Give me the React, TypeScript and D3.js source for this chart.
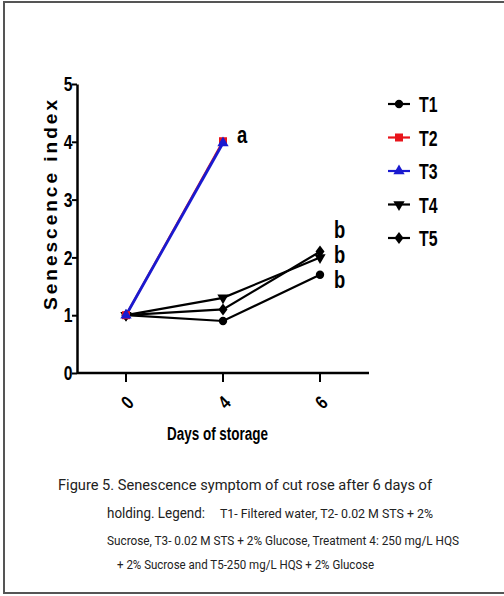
import React, { useEffect, useRef } from "react";
import * as d3 from "d3";

// dias de almacenamiento (categorias del eje x)
const days = ["0", "4", "6"];
const yTicks = [0, 1, 2, 3, 4, 5];

// indice de senescencia por tratamiento
const t1 = [1.0, 0.9, 1.7];
const t2 = [1.0, 4.01];
const t3 = [1.0, 3.98];
const t4 = [1.0, 1.3, 2.0];
const t5 = [1.0, 1.1, 2.1];

const seriesNames = ["T1", "T2", "T3", "T4", "T5"];
const seriesValues = [t1, t2, t3, t4, t5];
const seriesColors = ["#000000", "#e8141b", "#1a1ad0", "#000000", "#000000"];
const seriesSymbols = ["circle", "square", "triangle", "down", "diamond"];

// letras de significancia
const sigLetters = [
  { label: "a", day: "4", value: 4.1 },
  { label: "b", day: "6", value: 2.45 },
  { label: "b", day: "6", value: 2.02 },
  { label: "b", day: "6", value: 1.6 },
];

const captionLines = [
  "Figure 5. Senescence symptom of cut rose after 6 days of",
  "holding. Legend:",
  "T1- Filtered water,  T2- 0.02 M STS + 2%",
  "Sucrose, T3- 0.02 M STS + 2% Glucose, Treatment 4: 250 mg/L HQS",
  "+ 2% Sucrose and T5-250 mg/L HQS + 2% Glucose",
];

const W = 504;
const H = 596;
const narrow = "'Liberation Sans Narrow', 'Liberation Sans', 'DejaVu Sans', sans-serif";

const symbolPath = (kind: string) => {
  if (kind === "circle") return d3.symbol(d3.symbolCircle, 55)();
  if (kind === "square") return d3.symbol(d3.symbolSquare, 64)();
  if (kind === "triangle") return d3.symbol(d3.symbolTriangle, 55)();
  if (kind === "down") return d3.symbol(d3.symbolTriangle, 55)();
  return "M0,-6L4.5,0L0,6L-4.5,0Z";
};

// texto condensado en negrita
const boldText = (sel: any) =>
  sel
    .attr("font-family", narrow)
    .attr("font-weight", "bold")
    .style("font-stretch", "condensed")
    .attr("fill", "#000");

const App = () => {
  const ref = useRef<SVGGElement>(null);

  const drawChart = () => {
    const g = d3.select(ref.current);
    g.selectAll("*").remove();

    const x = d3.scalePoint<string>().domain(days).range([126, 320]);
    const y = d3.scaleLinear().domain([0, 5]).range([373, 84]);
    const x0 = 77;
    const xEnd = 369;

    // eje y
    const yAxis = g
      .append("g")
      .attr("transform", `translate(${x0},0)`)
      .call(d3.axisLeft(y).tickValues(yTicks).tickSize(5).tickSizeOuter(0).tickFormat(d3.format("d")));
    yAxis.select(".domain").attr("stroke-width", 2.5);
    yAxis.selectAll(".tick line").attr("stroke-width", 2);
    boldText(yAxis.selectAll(".tick text"))
      .attr("font-size", 21)
      .attr("x", -6)
      .attr("transform", "scale(0.75,1)");

    // eje x
    g.append("line")
      .attr("x1", x0)
      .attr("x2", xEnd)
      .attr("y1", y(0))
      .attr("y2", y(0))
      .attr("stroke", "#000")
      .attr("stroke-width", 2.5);
    days.forEach((d) => {
      g.append("line")
        .attr("x1", x(d)!)
        .attr("x2", x(d)!)
        .attr("y1", y(0))
        .attr("y2", y(0) + 9)
        .attr("stroke", "#000")
        .attr("stroke-width", 2);
      boldText(
        g
          .append("text")
          .attr("transform", `translate(${x(d)! + 6},${y(0) + 34}) rotate(-45) scale(0.8,1)`)
          .attr("text-anchor", "middle")
          .attr("font-size", 19)
      ).text(d);
    });

    // titulos de los ejes
    boldText(
      g
        .append("text")
        .attr("x", 167)
        .attr("y", 440)
        .attr("font-size", 18)
        .attr("textLength", 101)
        .attr("lengthAdjust", "spacingAndGlyphs")
    ).text("Days of storage");
    boldText(
      g
        .append("text")
        .attr("transform", "translate(57,205) rotate(-90)")
        .attr("text-anchor", "middle")
        .attr("font-size", 19)
        .attr("textLength", 210)
        .attr("lengthAdjust", "spacing")
    ).text("Senescence index");

    // lineas de cada tratamiento (T3 encima de T2)
    const order = [0, 3, 4, 1, 2];
    const line = d3
      .line<number>()
      .x((_, i) => x(days[i])!)
      .y((v) => y(v));
    order.forEach((k) => {
      g.append("path")
        .attr("d", line(seriesValues[k])!)
        .attr("fill", "none")
        .attr("stroke", seriesColors[k])
        .attr("stroke-width", k === 2 ? 2.8 : 2.2);
    });
    order.forEach((k) => {
      seriesValues[k].forEach((v, i) => {
        g.append("path")
          .attr("d", symbolPath(seriesSymbols[k]))
          .attr(
            "transform",
            `translate(${x(days[i])},${y(v)})${seriesSymbols[k] === "down" ? " rotate(180)" : ""}`
          )
          .attr("fill", seriesColors[k]);
      });
    });

    // letras
    sigLetters.forEach((s) => {
      boldText(
        g
          .append("text")
          .attr("transform", `translate(${x(s.day)! + 14},${y(s.value) + 7}) scale(0.8,1)`)
          .attr("font-size", 23)
      ).text(s.label);
    });

    // leyenda
    const legendY = d3.scalePoint<string>().domain(seriesNames).range([104, 238]);
    seriesNames.forEach((n, k) => {
      const ly = legendY(n)!;
      g.append("line")
        .attr("x1", 388)
        .attr("x2", 410)
        .attr("y1", ly)
        .attr("y2", ly)
        .attr("stroke", seriesColors[k])
        .attr("stroke-width", 2.2);
      g.append("path")
        .attr("d", symbolPath(seriesSymbols[k]))
        .attr("transform", `translate(399,${ly})${seriesSymbols[k] === "down" ? " rotate(180)" : ""}`)
        .attr("fill", seriesColors[k]);
      boldText(
        g
          .append("text")
          .attr("transform", `translate(419,${ly + 8}) scale(0.72,1)`)
          .attr("font-size", 22)
      ).text(n);
    });

    // pie de figura
    const capFont = "Roboto, 'Liberation Sans', sans-serif";
    const capText = (xx: number, yy: number, size: number, len: number) =>
      g
        .append("text")
        .attr("x", xx)
        .attr("y", yy)
        .attr("font-family", capFont)
        .attr("font-size", size)
        .attr("fill", "#222")
        .attr("textLength", len)
        .attr("lengthAdjust", "spacingAndGlyphs");
    capText(58, 490, 15.5, 374).text(captionLines[0]);
    const l2 = g
      .append("text")
      .attr("y", 518)
      .attr("font-family", capFont)
      .attr("fill", "#222");
    l2.append("tspan")
      .attr("x", 107)
      .attr("font-size", 15.5)
      .attr("textLength", 98)
      .attr("lengthAdjust", "spacingAndGlyphs")
      .text(captionLines[1]);
    l2.append("tspan")
      .attr("x", 220)
      .attr("font-size", 12)
      .attr("textLength", 213)
      .attr("lengthAdjust", "spacingAndGlyphs")
      .text(captionLines[2]);
    capText(107, 545, 12, 352).text(captionLines[3]);
    capText(117, 569, 12, 257).text(captionLines[4]);
  };

  useEffect(() => {
    if (ref.current) drawChart();
  }, []);

  return (
    <svg
      width={W}
      height={H}
      style={{ position: "absolute", left: 0, top: 0, background: "#fff" }}
    >
      <rect x={4} y={2} width={W + 10} height={591} fill="#fff" stroke="#555" strokeWidth={2} />
      <g ref={ref}></g>
    </svg>
  );
};

export default App;
